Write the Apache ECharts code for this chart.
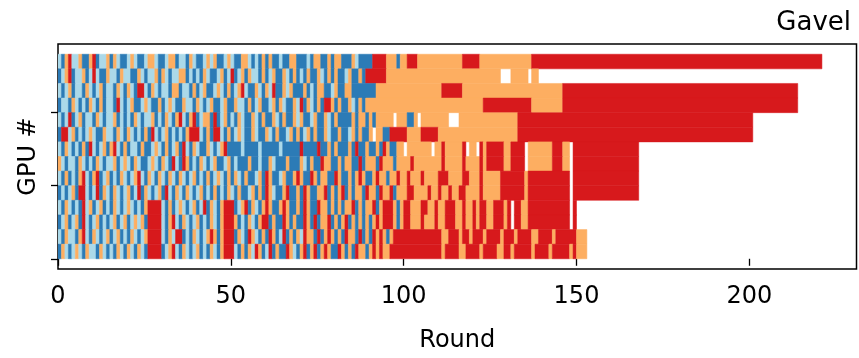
<!DOCTYPE html>
<html><head><meta charset="utf-8">
<script src="https://cdn.jsdelivr.net/npm/echarts@6/dist/echarts.min.js"></script>
<style>html,body{margin:0;padding:0;background:#fff}#c{width:859px;height:358px}</style>
</head><body><div id="c"></div>
<script>
// Colour codes used in the row strings: D dark blue, L light blue, O orange, R red, . empty
const colorCodes = ['D', 'L', 'O', 'R'];
const colorValues = ['#2c7bb6', '#abd9e9', '#fdae61', '#d7191c'];
const xTicks = [0, 50, 100, 150, 200];
const yTicks = [0, 5, 10];

// Each GPU row (top to bottom): [start round, run-length coded cells]
const gpuRow0 = [[0, "LDORLLODDO RDLLODOLDD LOLDDLOOLD DLOODLLDOL DDLOLODDLO LDDOOLDLDO DODDLDDOOD DDLDOODDOD OODDDOLDDD"], [90, "DRRRROOODO ORRROOOOOO OOOOOOORRR RROOOOOOOO OOOOOOO"], [137, "R84"]];
const gpuRow1 = [[0, "DLORDLLODL RLDDOLLDOL LDDOLDLLOD OLDLLOODLD LDOLDDLODL RDLODOLLDO DLODDOLDOD LDODDOLDOD ODDLODDODR"], [90, "RRRRROOOOO O20 OOOOOOOO...OOOOO.OO"]];
const gpuRow2 = [[0, "LDLODLLDOL DLODLLDOLD OLDRRLDOLD LLDOODLLDO DLODDLOLDO DLORLDDOLD OLRDDOLODD DODLDOODDL ODDOODDDDD"], [90, "DDOOOOOOOO O10 ORRRRRROOO O26"], [146, "R68"]];
const gpuRow3 = [[0, "DLLDOLDLDO LDODLLDRLD LODDLOLDDO DLOLDDOLLD OLDLODDLOD DOLLDODLOD DLODOLDDOL RDOLDODRRO DODDOLDODO"], [90, "O33 R14 O9"], [146, "R68"]];
const gpuRow4 = [[0, "LDLRDLODLL DOLDLLODLD LDOLDLLODL DOLDORLDOR DLOODRDLOD LDOLDDOLDO DDOLDODDOL ODDLODDOLD ODDDDODOOD"], [90, "ODOOOOO.OO ODDO.OOOOO OOO...OOOO O13"], [133, "R68"]];
const gpuRow5 = [[0, "DRRLODLDLO LDDOLLDOLD OLDLDODRLD LODLDLDORR RLDODRRLDO DLOLDDOLDD OLDODDLODO DLODODDOLD DODDLODODD"], [90, "O.OODDRRRR ROOOORRRRR O23"], [133, "R68"]];
const gpuRow6 = [[0, "LDOLDLDODR LDLODORLDO DLLDODDLOL DODLODRLDO LDDOLDLORD DDDLDDDDLD DDDDLDDDDD RDDDDRDDOD ODDDODRDDO"], [90, "DDODRODDOO .OOOOOOO.O OROOOOOR.O O.RORRRRRO ORRRR.OOOO OOORRROO.R"], [150, "R18"]];
const gpuRow7 = [[0, "OLDLLDOLDL DOLDLLODLO LDOLDDLOLD OLDRLDRODL DOLDLODDLO DLDDDODDLD DOLDDDODDD OLDODDROOD DODOODDRDO"], [90, "OODROOODOO OOROOOOOOO OROOOOOROO OORORRRRRO ORRRR.OOOO OOORRROO.R"], [150, "R18"]];
const gpuRow8 = [[0, "LDODLDORLD ORDLODLDOL DLORLDOLDO LDOLDOLDLO DLDODLOLDO DOLDODDLOD RODDLODDOR ODDRODOODD RODDODOROD"], [90, "DOROODOORO OROOOROOOO RRROOOORRO OOROOOOORR RRRRRORRRR RRRRRRRR.R"], [150, "R18"]];
const gpuRow9 = [[0, "DLDLODRRLD LRDOLDOLDL ODLRDOLDLO DRLDOLDOLD LODLDODLDO LDODDLODOD ROLDDORDDO DRODDOORDO DORDODOODR"], [90, "OODROORDOO ORROOOOROO ROOROORROO OOROOOOORR RRRRRORRRR RRRRRRRR.R"], [150, "R18"]];
const gpuRow10 = [[0, "LDOLDLDRLO DLODLDOLDL OLDLDORRRR LDODLOLDLO DLRDOLDORR RDLORDOLDO RODDORODDO DRODDROODO DODOORDODO"], [90, "ORDORRRODO RROOORROOR OORRROOROO RORROORRRO R.RROORRRR RRRRRRRR.R"]];
const gpuRow11 = [[0, "DLODLODRLD LODLDLODLO DLOLODRRRR LDORLDOLDL ODLDOLDORR RODLDOLDOR RDODDRODOD DRODRDOORD ODORDODODO"], [90, "DORORRRODO RROOOROOOR OORRROOROO RORROORRRO R.RROORRRR RRRRRRRR.R"]];
const gpuRow12 = [[0, "LDOLLDORLD OLDLODLODL DOLDLORRRR LDOLRRDLDO LDLORODORR RDOLDROLDO DRODLRDODO LROODRDORO DODROODRDO"], [90, "DRORODORRR R10 ROORRRORRO RRRORRRROR RRORRRROOR RRRORRRRRR OOO"]];
const gpuRow13 = [[0, "DOLDLOLDOL LDOLDLDOLD OLDOLDRRRR DLORLDOLDL ODLDOLDORR RLDODOLROD LRDODDROLD ORDORDOROD DRODODROOD"], [90, "OROROORRRR R10 RORRRROORR RRORRRROOR RORRRRRORR RRORRRRROR OOO"]];

const gpuRows = [gpuRow0, gpuRow1, gpuRow2, gpuRow3, gpuRow4, gpuRow5, gpuRow6,
                 gpuRow7, gpuRow8, gpuRow9, gpuRow10, gpuRow11, gpuRow12, gpuRow13];

function decodeRow(segments) {
  const cells = [];
  segments.forEach(([start, code]) => {
    let pos = start;
    code.replace(/\s+/g, '').replace(/([DLOR.])(\d*)/g, (m, ch, n) => {
      const count = n ? parseInt(n, 10) : 1;
      for (let i = 0; i < count; i++) cells[pos++] = ch;
      return '';
    });
  });
  return cells;
}

const runs = [];
gpuRows.forEach((segs, idx) => {
  const k = gpuRows.length - 1 - idx; // GPU index, 0 at bottom
  const cells = decodeRow(segs);
  let i = 0;
  while (i < cells.length) {
    const ch = cells[i];
    let j = i + 1;
    while (j < cells.length && cells[j] === ch) j++;
    const ci = colorCodes.indexOf(ch);
    if (ci >= 0) runs.push([i, j, k, ci]);
    i = j;
  }
});

const chart = echarts.init(document.getElementById('c'), null, {renderer: 'canvas'});
const font = 'DejaVu Sans';
chart.setOption({
  animation: false,
  backgroundColor: '#fff',
  title: {
    text: 'Gavel', right: 3, top: 5,
    textStyle: {fontFamily: font, fontSize: 26, fontWeight: 'normal', color: '#000'}
  },
  grid: {left: 58, right: 2.5, top: 44, bottom: 88, show: true, borderColor: '#000', borderWidth: 1.5, backgroundColor: 'transparent'},
  xAxis: {
    type: 'value', min: 0, max: 231, interval: 50,
    axisLine: {show: false},
    axisTick: {show: true, length: 7, lineStyle: {color: '#000', width: 1.3}, customValues: xTicks},
    axisLabel: {fontFamily: font, fontSize: 24, color: '#000', margin: 16, customValues: xTicks},
    splitLine: {show: false},
    name: 'Round', nameLocation: 'middle', nameGap: 60,
    nameTextStyle: {fontFamily: font, fontSize: 24, color: '#000'}
  },
  yAxis: {
    type: 'value', min: -0.7, max: 14.7,
    axisLine: {show: false},
    axisTick: {show: true, length: 7, lineStyle: {color: '#000', width: 1.3}, customValues: yTicks},
    axisLabel: {show: false},
    splitLine: {show: false},
    name: 'GPU #', nameLocation: 'middle', nameGap: 17, nameRotate: 90,
    nameTextStyle: {fontFamily: font, fontSize: 24, color: '#000'}
  },
  series: [{
    type: 'custom',
    silent: true,
    clip: true,
    encode: {x: [0, 1], y: 2},
    data: runs,
    renderItem: function (params, api) {
      const s = api.value(0), e = api.value(1), k = api.value(2), c = api.value(3);
      const p0 = api.coord([s, k + 1]);
      const p1 = api.coord([e, k]);
      const col = colorValues[c];
      return {
        type: 'rect',
        shape: {x: p0[0], y: p0[1], width: p1[0] - p0[0], height: p1[1] - p0[1]},
        style: {fill: col, stroke: col, lineWidth: 0.5}
      };
    }
  }]
});
</script></body></html>
